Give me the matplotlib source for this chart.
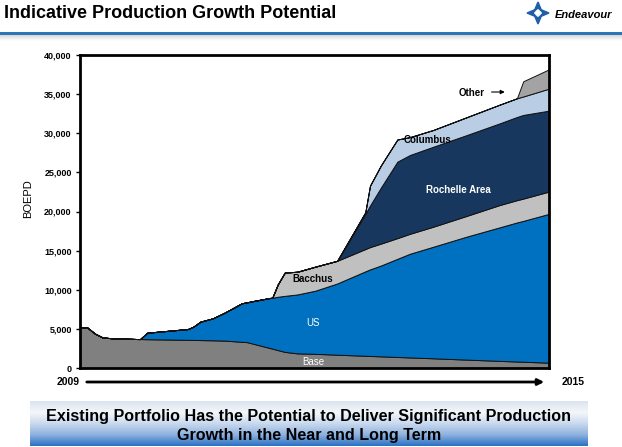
import numpy as np
import matplotlib
matplotlib.use("Agg")
import matplotlib.pyplot as plt
from matplotlib.patches import Polygon, FancyArrowPatch
from matplotlib.colors import LinearSegmentedColormap

plt.rcParams['font.family'] = ['Liberation Sans', 'DejaVu Sans']

# time axis (fractional years) shared by all layers
years = [2009.00, 2009.09, 2009.19, 2009.29, 2009.41, 2009.74, 2009.77, 2009.86,
         2010.38, 2010.45, 2010.54, 2010.70, 2010.85, 2011.07, 2011.14, 2011.24,
         2011.43, 2011.46, 2011.53, 2011.62, 2011.78, 2012.01, 2012.29, 2012.65,
         2012.71, 2012.85, 2013.06, 2013.22, 2013.52, 2013.95, 2014.37, 2014.59,
         2014.67, 2015.00]

# cumulative tops of each layer (BOEPD)
base_top = [5200, 5200, 4400, 3900, 3800, 3700, 3700, 3680,
            3600, 3590, 3570, 3540, 3500, 3350, 3300, 3040,
            2550, 2480, 2290, 2060, 1870, 1810, 1700, 1565,
            1540, 1490, 1410, 1350, 1240, 1070, 910, 830,
            800, 680]
us_top = [5200, 5200, 4400, 3900, 3800, 3700, 3700, 4510,
          4980, 5280, 5920, 6350, 7070, 8270, 8400, 8600,
          8950, 8980, 9100, 9220, 9400, 9880, 10800, 12350,
          12600, 13100, 13950, 14600, 15500, 16800, 17980, 18600,
          18800, 19700]
bacchus_top = [5200, 5200, 4400, 3900, 3800, 3700, 3700, 4510,
               4980, 5280, 5920, 6350, 7070, 8270, 8400, 8600,
               8950, 8980, 10680, 12200, 12300, 12950, 13700, 15200,
               15450, 15900, 16600, 17150, 18060, 19450, 20830, 21450,
               21650, 22550]
rochelle_top = [5200, 5200, 4400, 3900, 3800, 3700, 3700, 4510,
                4980, 5280, 5920, 6350, 7070, 8270, 8400, 8600,
                8950, 8980, 10680, 12200, 12300, 12950, 13700, 19700,
                20760, 23070, 26370, 27220, 28280, 29780, 31270, 32080,
                32340, 32890]
columbus_top = [5200, 5200, 4400, 3900, 3800, 3700, 3700, 4510,
                4980, 5280, 5920, 6350, 7070, 8270, 8400, 8600,
                8950, 8980, 10680, 12200, 12300, 12950, 13700, 19900,
                23300, 25900, 29200, 29500, 30420, 32060, 33660, 34470,
                34700, 35700]
other_top = [5200, 5200, 4400, 3900, 3800, 3700, 3700, 4510,
             4980, 5280, 5920, 6350, 7070, 8270, 8400, 8600,
             8950, 8980, 10680, 12200, 12300, 12950, 13700, 19900,
             23300, 25900, 29200, 29500, 30420, 32060, 33660, 34470,
             36640, 38170]

tops = [base_top, us_top, bacchus_top, rochelle_top, columbus_top, other_top]
layers = [np.array(tops[0])] + [np.array(tops[i]) - np.array(tops[i - 1]) for i in range(1, len(tops))]
colors = ['#808080', '#0070c0', '#c0c0c0', '#17375e', '#b9cde5', '#a3a3a3']

fig = plt.figure(figsize=(6.22, 4.47), dpi=100)
fig.patch.set_facecolor('white')

ax = fig.add_axes([80 / 622, 1 - 368 / 447, 469 / 622, 313 / 447])
ax.stackplot(years, *layers, colors=colors, edgecolor='#111111', linewidth=0.7)
ax.set_xlim(2009, 2015)
ax.set_ylim(0, 40000)
ax.set_yticks(range(0, 40001, 5000))
ax.set_yticklabels([f"{v:,}" for v in range(0, 40001, 5000)], fontsize=6.5, fontweight='bold')
ax.tick_params(axis='y', length=3, width=1, pad=3)
ax.set_xticks([])
for s in ax.spines.values():
    s.set_linewidth(2)
fig.text(28 / 622, 1 - 199 / 447, "BOEPD", fontsize=8, rotation=90, ha='center', va='center')

# layer labels
ax.text(2014.01, 35150, "Other", fontsize=7, fontweight='bold', ha='center', va='center')
ax.annotate("", xy=(2014.47, 35270), xytext=(2014.23, 35270),
            arrowprops=dict(arrowstyle='-|>', color='black', lw=0.8, mutation_scale=6))
ax.text(2013.44, 29140, "Columbus", fontsize=7, fontweight='bold', ha='center', va='center')
ax.text(2013.84, 22750, "Rochelle Area", fontsize=7, fontweight='bold', ha='center', va='center', color='white')
ax.text(2011.98, 11370, "Bacchus", fontsize=7, fontweight='bold', ha='center', va='center')
ax.text(2011.98, 5750, "US", fontsize=7, ha='center', va='center', color='white')
ax.text(2011.98, 770, "Base", fontsize=7, ha='center', va='center', color='white')

# timeline arrow under chart
fig.text(80 / 622, 1 - 382 / 447, "2009", fontsize=7.5, fontweight='bold', ha='right', va='center')
fig.text(562 / 622, 1 - 382 / 447, "2015", fontsize=7.5, fontweight='bold', ha='left', va='center')
fig.add_artist(FancyArrowPatch((84 / 622, 1 - 382 / 447), (547 / 622, 1 - 382 / 447),
                               transform=fig.transFigure, arrowstyle='-|>',
                               mutation_scale=9, lw=2, color='black'))

# title and header rule
fig.text(4 / 622, 1 - 14 / 447, "Indicative Production Growth Potential", fontsize=13,
         fontweight='bold', ha='left', va='center')
fig.add_artist(plt.Line2D([0, 1], [1 - 33 / 447, 1 - 33 / 447], transform=fig.transFigure,
                          color='#2e75b6', lw=2.2))
grad_top = fig.add_axes([0, 1 - 41 / 447, 1, 7 / 447])
grad_top.imshow(np.linspace(0.82, 1, 20).reshape(-1, 1), cmap='gray', vmin=0, vmax=1,
                aspect='auto', extent=[0, 1, 0, 1])
grad_top.axis('off')

# logo
lx, ly = 538 / 622, 1 - 13 / 447
sx, sy = 11 / 622, 11 / 447
star = []
for k in range(8):
    ang = np.pi / 2 + k * np.pi / 4
    r = 1.0 if k % 2 == 0 else 0.42
    star.append((lx + sx * r * np.cos(ang), ly + sy * r * np.sin(ang)))
fig.add_artist(Polygon(star, closed=True, transform=fig.transFigure, color='#1f5fa8'))
fig.add_artist(Polygon([(lx, ly + sy * 0.3), (lx + sx * 0.3, ly), (lx, ly - sy * 0.3), (lx - sx * 0.3, ly)],
                       closed=True, transform=fig.transFigure, color='white'))
fig.text(555 / 622, 1 - 15 / 447, "Endeavour", fontsize=8, fontweight='bold', style='italic',
         ha='left', va='center')

# bottom banner with gradient
bax = fig.add_axes([30 / 622, 1 - 446 / 447, 558 / 622, 45 / 447])
grad = np.linspace(0, 1, 60).reshape(-1, 1)
cmap = LinearSegmentedColormap.from_list('banner', ['#dbe4ef', '#f4f7fb', '#c9d9ee', '#8fb2df', '#2c73c4'])
bax.imshow(grad, cmap=cmap, aspect='auto', extent=[0, 1, 0, 1])
bax.axis('off')
bax.text(0.5, 0.66, "Existing Portfolio Has the Potential to Deliver Significant Production",
         fontsize=11.6, fontweight='bold', ha='center', va='center', transform=bax.transAxes)
bax.text(0.5, 0.24, "Growth in the Near and Long Term",
         fontsize=11.6, fontweight='bold', ha='center', va='center', transform=bax.transAxes)

fig.savefig("out.png", dpi=100)
